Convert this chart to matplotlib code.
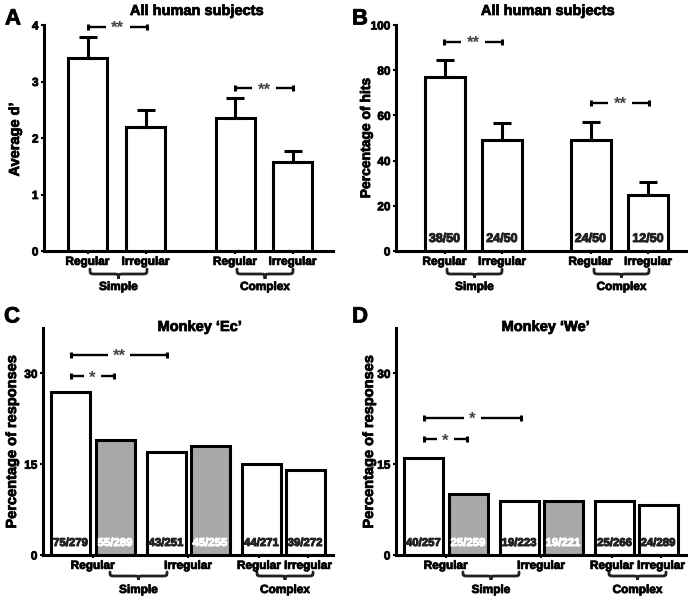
import matplotlib
matplotlib.use('Agg')
import matplotlib.pyplot as plt
import matplotlib.transforms as mtrans
import matplotlib.patheffects as pe
from matplotlib.path import Path
from matplotlib.patches import PathPatch

# ---------------- data ----------------
cond_labels_ab = ['Regular', 'Irregular', 'Regular', 'Irregular']
group_labels = ['Simple', 'Complex']

a_vals = [3.42, 2.20, 2.35, 1.57]
a_err = [0.36, 0.29, 0.35, 0.20]

b_vals = [77, 49, 49, 25]
b_err = [7.5, 7.5, 8.0, 5.5]
b_counts = ['38/50', '24/50', '24/50', '12/50']

cond_labels_cd = ['Regular', 'Irregular', 'Regular', 'Irregular']
c_vals = [27, 19, 17, 18, 15, 14]
c_counts = ['75/279', '55/289', '43/251', '45/255', '44/271', '39/272']

d_vals = [16, 10, 9, 9, 9, 8.3]
d_counts = ['40/257', '25/259', '19/223', '19/221', '25/266', '24/289']

cd_shaded = [False, True, False, True, False, False]

# ---------------- layout ----------------
W, H, DPI = 692, 602, 100
plt.rcParams['font.family'] = ['Liberation Sans', 'DejaVu Sans']
plt.rcParams['font.weight'] = 'bold'
fig = plt.figure(figsize=(W / DPI, H / DPI), dpi=DPI)
fig.patch.set_facecolor('white')

LW = 2.2
GRAY = '#a9a9a9'
THICK = [pe.withStroke(linewidth=0.6, foreground='#111111')]


def make_axes(l, r, top, bot):
    ax = fig.add_axes([l / W, 1 - bot / H, (r - l) / W, (bot - top) / H])
    for s in ['top', 'right']:
        ax.spines[s].set_visible(False)
    for s in ['left', 'bottom']:
        ax.spines[s].set_linewidth(LW)
    ax.tick_params(axis='y', direction='out', length=2.5, width=1.5,
                   labelsize=8.5, pad=1.5)
    ax.tick_params(axis='x', direction='out', length=2.5, width=1.5,
                   labelsize=8.5, pad=1.0)
    ax.set_xlim(0, (r - l))
    ax.set_facecolor('none')
    return ax


def finish_ticks(ax):
    for lab in ax.get_xticklabels() + ax.get_yticklabels():
        lab.set_path_effects(THICK)


def inch(ypx):
    return (H - ypx) / DPI


def blend(ax):
    return mtrans.blended_transform_factory(ax.transData, fig.dpi_scale_trans)


def brace(ax, x0, x1, axis_px, top_off, mid_off, tip_off, label, text_off):
    t = blend(ax)
    yt, ym, yb = inch(axis_px + top_off), inch(axis_px + mid_off), inch(axis_px + tip_off)
    xm = 0.5 * (x0 + x1)
    r = 6
    verts = [(x0, yt), (x0, ym), (x0, ym), (x0 + r, ym),
             (xm - r, ym),
             (xm, ym), (xm, ym), (xm, yb),
             (xm, ym), (xm, ym), (xm + r, ym),
             (x1 - r, ym),
             (x1, ym), (x1, ym), (x1, yt)]
    codes = [Path.MOVETO, Path.CURVE4, Path.CURVE4, Path.CURVE4,
             Path.LINETO,
             Path.CURVE4, Path.CURVE4, Path.CURVE4,
             Path.CURVE4, Path.CURVE4, Path.CURVE4,
             Path.LINETO,
             Path.CURVE4, Path.CURVE4, Path.CURVE4]
    p = PathPatch(Path(verts, codes), transform=t, fill=False, lw=2.0,
                  edgecolor='#222222', clip_on=False, capstyle='round')
    ax.add_patch(p)
    ax.text(xm, inch(axis_px + text_off), label, transform=t, ha='center',
            va='center', fontsize=8.5, fontweight='bold', path_effects=THICK)


def sig(ax, x0, x1, y, stars, gap):
    xm = 0.5 * (x0 + x1)
    kw = dict(color='black', lw=1.7, clip_on=False, solid_capstyle='butt')
    ax.plot([x0, xm - gap / 2], [y, y], **kw)
    ax.plot([xm + gap / 2, x1], [y, y], **kw)
    ax.plot([x0, x1], [y, y], ls='none', marker='|', ms=5, mew=2.2,
            color='black', clip_on=False)
    off = mtrans.ScaledTranslation(0, -6.0 / DPI, fig.dpi_scale_trans)
    ax.text(xm, y, stars, transform=ax.transData + off, ha='center',
            va='baseline', fontsize=12, fontweight='bold', color='#444444',
            clip_on=False)


def counts_text(ax, xs, counts, colors, size, axis_off=12):
    off = mtrans.ScaledTranslation(0, axis_off / DPI, fig.dpi_scale_trans)
    for x, s, c in zip(xs, counts, colors):
        ax.text(x, 0, s, transform=ax.transData + off, ha='center',
                va='center', fontsize=size, fontweight='bold', color=c,
                path_effects=[pe.withStroke(linewidth=0.7, foreground=c)],
                zorder=5)


BW = 39

# ---------------- Panel A ----------------
axA = make_axes(44, 333, 25, 251)
posA = [43.5, 101.5, 191, 248.5]
axA.bar(posA, a_vals, width=BW, color='white', edgecolor='black', linewidth=LW, zorder=2)
axA.errorbar(posA, a_vals, yerr=[[0] * 4, a_err], fmt='none', ecolor='black',
             elinewidth=LW, capsize=6.5, capthick=LW, zorder=3)
axA.set_ylim(0, 4)
axA.set_yticks([0, 1, 2, 3, 4])
axA.set_xticks(posA, cond_labels_ab)
finish_ticks(axA)
sig(axA, 44, 103, 3.97, '**', 24)
sig(axA, 191, 249, 2.88, '**', 24)
brace(axA, 46, 103, 251, 18, 23, 28, group_labels[0], 36)
brace(axA, 193, 249, 251, 18, 23, 28, group_labels[1], 36)

# ---------------- Panel B ----------------
axB = make_axes(396, 686, 25, 251)
posB = [48.5, 106, 194.5, 252]
axB.bar(posB, b_vals, width=40, color='white', edgecolor='black', linewidth=LW, zorder=2)
axB.errorbar(posB, b_vals, yerr=[[0] * 4, b_err], fmt='none', ecolor='black',
             elinewidth=LW, capsize=6.5, capthick=LW, zorder=3)
axB.set_ylim(0, 100)
axB.set_yticks([0, 20, 40, 60, 80, 100])
axB.set_xticks(posB, cond_labels_ab)
finish_ticks(axB)
counts_text(axB, posB, b_counts, ['#222222'] * 4, 9)
sig(axB, 48, 106, 92.5, '**', 24)
sig(axB, 195, 253, 65.5, '**', 24)
brace(axB, 51, 106, 251, 18, 23, 27, group_labels[0], 36)
brace(axB, 198, 253, 251, 18, 23, 27, group_labels[1], 36)

# ---------------- Panel C & D ----------------
posCD = [27.5, 72, 123, 167, 218.5, 262]
fills = [GRAY if s else 'white' for s in cd_shaded]
tcols = ['white' if s else '#222222' for s in cd_shaded]
xtickCD = [49.75, 145, 216, 265]

axC = make_axes(43, 333, 328, 555)
axC.bar(posCD, c_vals, width=BW, color=fills, edgecolor='black', linewidth=LW, zorder=2)
axC.set_ylim(0, 37.5)
axC.set_yticks([0, 15, 30])
axC.set_xticks(xtickCD, cond_labels_cd)
finish_ticks(axC)
counts_text(axC, posCD, c_counts, tcols, 8.2)
sig(axC, 28, 124, 33.1, '**', 22)
sig(axC, 28, 71, 29.5, '*', 17)
brace(axC, 67, 124, 555, 17, 21, 25, group_labels[0], 35)
brace(axC, 214, 270, 555, 17, 21, 25, group_labels[1], 35)

axD = make_axes(396, 686, 328, 555)
axD.bar(posCD, d_vals, width=BW, color=fills, edgecolor='black', linewidth=LW, zorder=2)
axD.set_ylim(0, 37.5)
axD.set_yticks([0, 15, 30])
axD.set_xticks(xtickCD, cond_labels_cd)
finish_ticks(axD)
counts_text(axD, posCD, d_counts, tcols, 8.2)
sig(axD, 28, 125, 22.6, '*', 17)
sig(axD, 28, 71, 19.1, '*', 17)
brace(axD, 67, 123, 555, 17, 21, 25, group_labels[0], 35)
brace(axD, 213, 270, 555, 17, 21, 25, group_labels[1], 35)

# ---------------- titles, labels, panel letters ----------------
def ftext(x, y, s, **kw):
    fig.text(x / W, 1 - y / H, s, path_effects=THICK, **kw)

ftext(197, 11, 'All human subjects', ha='center', va='center', fontsize=10.5)
ftext(548, 11, 'All human subjects', ha='center', va='center', fontsize=10.5)
ftext(200, 327, 'Monkey \u2018Ec\u2019', ha='center', va='center', fontsize=10.5)
ftext(546, 327, 'Monkey \u2018We\u2019', ha='center', va='center', fontsize=10.5)

ftext(15, 139, 'Average d\u2019', ha='center', va='center', rotation=90, fontsize=10.5)
ftext(366, 138, 'Percentage of hits', ha='center', va='center', rotation=90, fontsize=10)
ftext(12, 441, 'Percentage of responses', ha='center', va='center', rotation=90, fontsize=10.5)
ftext(369, 441, 'Percentage of responses', ha='center', va='center', rotation=90, fontsize=10.5)

for x, y, s in [(13, 19, 'A'), (360, 19, 'B'), (12, 317, 'C'), (360, 317, 'D')]:
    ftext(x, y, s, ha='center', va='center', fontsize=16, fontweight='heavy')

fig.savefig('out.png', dpi=DPI, facecolor='white')
